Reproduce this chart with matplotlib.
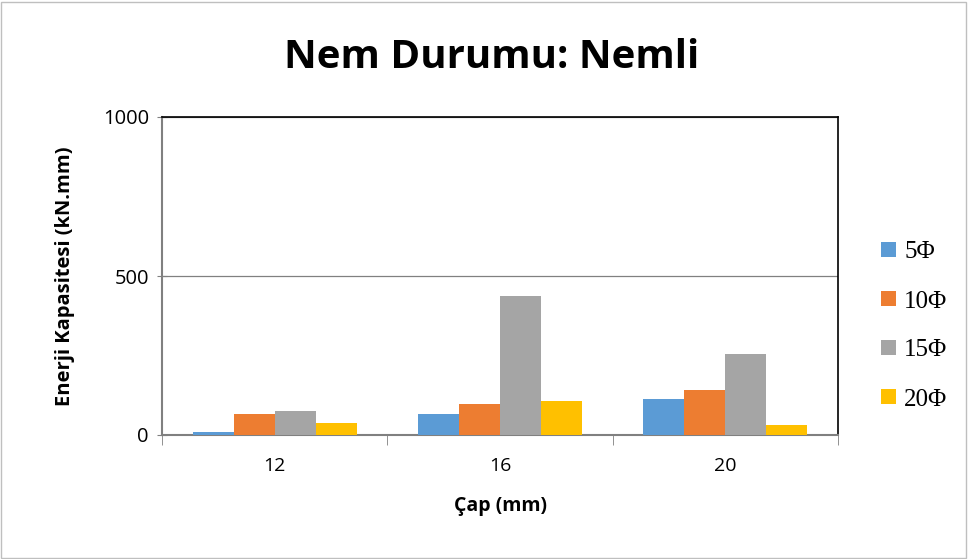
import numpy as np
import matplotlib.pyplot as plt
from matplotlib.patches import Rectangle

# veriler
kategoriler = ["12", "16", "20"]
seriler = ["5Φ", "10Φ", "15Φ", "20Φ"]
v_5 = [8, 67, 112]
v_10 = [65, 98, 141]
v_15 = [74, 436, 256]
v_20 = [38, 106, 33]
renkler = ["#5B9BD5", "#ED7D31", "#A5A5A5", "#FFC000"]

fig = plt.figure(figsize=(9.68, 5.59), dpi=100)
ax = fig.add_axes([162/968, 1-435/559, 676/968, 318/559])

x = np.arange(len(kategoriler))
w = 0.182
degerler = [v_5, v_10, v_15, v_20]
for i, (ad, v, c) in enumerate(zip(seriler, degerler, renkler)):
    ax.bar(x + (i - 1.5)*w, v, w, color=c, label=ad, zorder=3)

ax.set_xlim(-0.5, 2.5)
ax.set_ylim(0, 1000)
ax.set_yticks([0, 500, 1000])
ax.set_xticks(x)
ax.set_xticklabels(kategoriler, fontsize=14, family="Open Sans")
for t in ax.get_yticklabels():
    t.set_fontsize(14.5)
    t.set_family("Open Sans")
ax.set_xticks([-0.5, 0.5, 1.5, 2.5], minor=True)
ax.tick_params(axis="x", which="major", length=0, pad=16)
ax.tick_params(axis="x", which="minor", length=7, color="#808080", direction="out")
ax.tick_params(axis="y", length=7, color="#808080", direction="inout", pad=6)

ax.grid(axis="y", color="#808080", lw=0.9, zorder=0)
for s in ["left", "bottom"]:
    ax.spines[s].set_color("#808080")
    ax.spines[s].set_linewidth(1.5)
for s in ["top", "right"]:
    ax.spines[s].set_color("black")
    ax.spines[s].set_linewidth(1.2)

ax.set_xlabel("Çap (mm)", fontsize=14, fontweight="bold", family="Open Sans", labelpad=15)
ax.set_ylabel("Enerji Kapasitesi (kN.mm)", fontsize=14.5, fontweight="bold",
              family="Open Sans", labelpad=20)

fig.text(0.508, 1-58/559, "Nem Durumu: Nemli", fontsize=29, fontweight="bold",
         family="Open Sans", ha="center", va="center")

ax.legend(loc="center left", bbox_to_anchor=(881/968, 1-326/559),
          bbox_transform=fig.transFigure, frameon=False,
          prop={"family": "Liberation Serif", "size": 18},
          handlelength=0.58, handleheight=0.58, labelspacing=1.08, handletextpad=0.35,
          borderpad=0, borderaxespad=0)

fig.patches.append(Rectangle((0.001, 0.002), 0.997, 0.995, transform=fig.transFigure,
                             fill=False, edgecolor="#BFBFBF", lw=1))

plt.savefig("out.png", dpi=100)
